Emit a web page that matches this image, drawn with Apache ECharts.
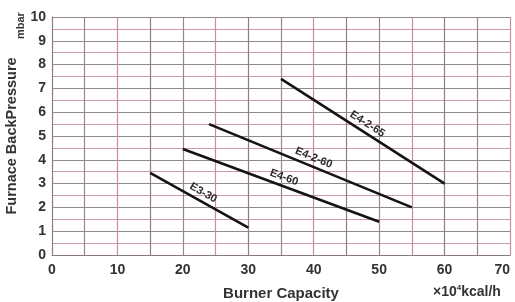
<!DOCTYPE html>
<html>
<head>
<meta charset="utf-8">
<script src="https://cdn.jsdelivr.net/npm/echarts@6/dist/echarts.min.js"></script>
<style>
  html, body { margin: 0; padding: 0; background: #fff; }
  #chart { width: 515px; height: 302px; }
</style>
</head>
<body>
<div id="chart"></div>
<script>
  // 燃烧器型号及其曲线端点 (容量, 背压)
  var models = ['E3-30', 'E4-60', 'E4-2-60', 'E4-2-65'];
  var e3_30 = [[15, 3.45], [30, 1.15]];
  var e4_60 = [[20, 4.45], [50, 1.4]];
  var e4_2_60 = [[24, 5.5], [55, 2.0]];
  var e4_2_65 = [[35, 7.4], [60, 3.0]];
  var xTicks = [0, 10, 20, 30, 40, 50, 60, 70];
  var yTicks = [0, 1, 2, 3, 4, 5, 6, 7, 8, 9, 10];

  var lines = [e3_30, e4_60, e4_2_60, e4_2_65];
  var textColor = '#333';
  var font = 'Liberation Sans, Arial, sans-serif';

  var myChart = echarts.init(document.getElementById('chart'));

  var series = lines.map(function (pts, i) {
    return {
      name: models[i],
      type: 'line',
      data: pts,
      symbol: 'none',
      silent: true,
      lineStyle: { color: '#141414', width: 2.6 },
      // 仅用于沿线标注型号
      markLine: {
        silent: true,
        symbol: 'none',
        lineStyle: { color: 'rgba(0,0,0,0)', width: 1 },
        label: {
          show: true,
          position: 'insideMiddleTop',
          formatter: models[i],
          color: '#2a2a2a',
          fontFamily: font,
          fontWeight: 'bold',
          fontSize: 11,
          distance: 3
        },
        data: [[{ coord: pts[0] }, { coord: pts[1] }]]
      }
    };
  });

  myChart.setOption({
    animation: false,
    grid: { left: 52, right: 5, top: 17, bottom: 47, outerBoundsMode: 'none' },
    xAxis: {
      type: 'value',
      min: 0,
      max: 70,
      interval: 5,
      name: 'Burner Capacity',
      nameLocation: 'middle',
      nameGap: 31,
      nameTextStyle: { color: textColor, fontFamily: font, fontWeight: 'bold', fontSize: 15 },
      axisLine: { show: true, lineStyle: { color: '#8a7a7e', width: 1 } },
      axisTick: { show: false },
      axisLabel: {
        color: textColor,
        fontFamily: font,
        fontWeight: 'bold',
        fontSize: 14,
        margin: 8,
        alignMaxLabel: 'right',
        formatter: function (v) { return xTicks.indexOf(v) >= 0 ? v : ''; }
      },
      splitLine: { show: true, lineStyle: { color: ['#8e7e84', '#968890', '#c98e98'], width: 1.2 } }
    },
    yAxis: {
      type: 'value',
      min: 0,
      max: 10,
      interval: 0.5,
      name: 'Furnace BackPressure',
      nameLocation: 'middle',
      nameGap: 24,
      nameTextStyle: { color: textColor, fontFamily: font, fontWeight: 'bold', fontSize: 14.5 },
      axisLine: { show: true, lineStyle: { color: '#8a7a7e', width: 1 } },
      axisTick: { show: false },
      axisLabel: {
        color: textColor,
        fontFamily: font,
        fontWeight: 'bold',
        fontSize: 14,
        margin: 6,
        formatter: function (v) { return yTicks.indexOf(v) >= 0 ? v : ''; }
      },
      splitLine: { show: true, lineStyle: { color: ['#948890', '#d09aa4'], width: 1.2 } }
    },
    graphic: [
      {
        type: 'text',
        left: 433,
        top: 284,
        style: {
          text: '×10{s|4}kcal/h',
          fill: textColor,
          font: 'bold 14px ' + font,
          rich: { s: { fontSize: 8, fontWeight: 'bold', verticalAlign: 'top', fill: textColor, padding: [0, 0, 9, 0] } }
        }
      },
      {
        type: 'text',
        x: 15,
        y: 39,
        rotation: Math.PI / 2,
        style: {
          text: 'mbar',
          fill: textColor,
          font: 'bold 11px ' + font
        }
      }
    ],
    series: series
  });
</script>
</body>
</html>
